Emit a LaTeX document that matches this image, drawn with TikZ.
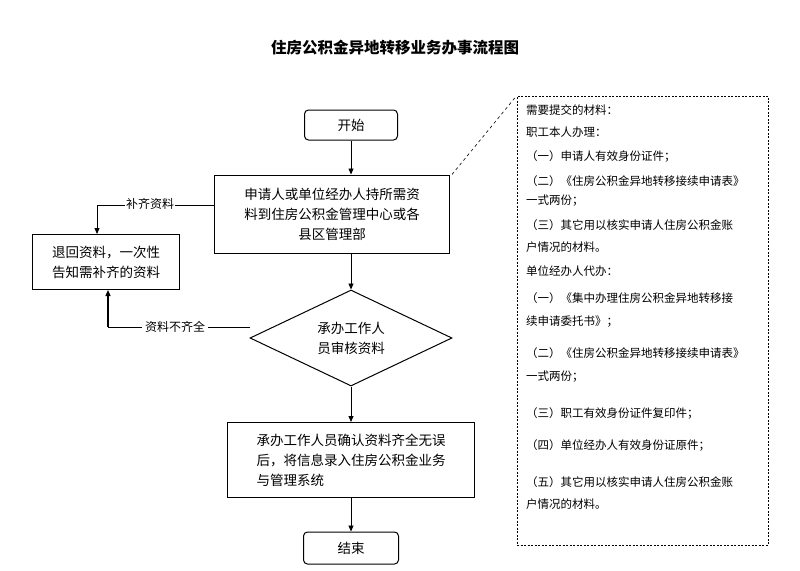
\documentclass[tikz,border=0pt]{standalone}
\usepackage{fontspec}
\setmainfont{Noto Sans CJK SC}
\usetikzlibrary{shapes.geometric,arrows.meta}
\begin{document}
\begin{tikzpicture}[x=1pt,y=-1pt,
  box/.style={draw,line width=1pt,align=center,font=\fontsize{13.5}{20}\selectfont,inner sep=0pt},
  arr/.style={-{Triangle[length=6pt,width=5pt]},line width=0.8pt},
  side/.style={anchor=west,font=\fontsize{11.5}{13}\selectfont,inner sep=0pt}]
\useasboundingbox (0,0) rectangle (800,570);
\node[font=\bfseries\fontsize{15.5}{18}\selectfont] (title) at (395,48) {住房公积金异地转移业务办事流程图};
\node[box,rounded corners=4pt,minimum width=93pt,minimum height=30pt] (start) at (351,125) {开始};
\node[box,minimum width=235pt,minimum height=78pt] (b1) at (332,214) {申请人或单位经办人持所需资\\料到住房公积金管理中心或各\\县区管理部};
\node[box,minimum width=147pt,minimum height=55pt] (back) at (106,262) {退回资料，一次性\\告知需补齐的资料};
\node[box,diamond,aspect=2.1,minimum width=202pt,minimum height=96pt] (dia) at (351,338) {承办工作人\\员审核资料};
\node[box,minimum width=247pt,minimum height=75pt,align=left] (b3) at (351,460) {承办工作人员确认资料齐全无误\\后，将信息录入住房公积金业务\\与管理系统};
\node[box,rounded corners=4pt,minimum width=95pt,minimum height=32pt] (end) at (351,548) {结束};
\node[draw,dash pattern=on 2pt off 1.5pt,line width=0.7pt,minimum width=251pt,minimum height=449pt] (mat) at (642.5,320.5) {};
\draw[arr] (start) -- (start |- b1.north);
\draw[arr] (start |- b1.south) -- (dia.north);
\draw[arr] (dia.south) -- (b3);
\draw[arr] (b3) -- (end);
\draw[dashed,line width=0.6pt] (b1.north east) ++(2,0) -- (mat.north west);
\coordinate (c1) at (97,205);
\draw[arr] (b1.west |- c1) -- (c1) -- (back.north -| c1);
\node[fill=white,inner sep=1pt,font=\fontsize{12}{14}\selectfont] (l1) at (150,204) {补齐资料};
\coordinate (c2) at (250,327);
\coordinate (c3) at (108,327);
\draw[line width=0.8pt] (c2) -- (c3);
\draw[arr,line width=1.3pt] (c3) -- (back.south -| c3);
\node[fill=white,inner sep=3pt,font=\fontsize{12}{14}\selectfont] (l2) at (175,327) {资料不齐全};
\node[side] (t1) at (526,110) {需要提交的材料：};
\node[side] (t2) at (526,132) {职工本人办理：};
\node[side] (t3) at (526,157) {（一）申请人有效身份证件；};
\node[side] (t4) at (526,181) {（二）《住房公积金异地转移接续申请表》};
\node[side] (t5) at (526,201) {一式两份；};
\node[side] (t6) at (526,225) {（三）其它用以核实申请人住房公积金账};
\node[side] (t7) at (526,247) {户情况的材料。};
\node[side] (t8) at (526,271) {单位经办人代办：};
\node[side] (t9) at (526,298) {（一）《集中办理住房公积金异地转移接};
\node[side] (t10) at (526,322) {续申请委托书》；};
\node[side] (t11) at (526,353) {（二）《住房公积金异地转移接续申请表》};
\node[side] (t12) at (526,377) {一式两份；};
\node[side] (t13) at (526,413) {（三）职工有效身份证件复印件；};
\node[side] (t14) at (526,445) {（四）单位经办人有效身份证原件；};
\node[side] (t15) at (526,482) {（五）其它用以核实申请人住房公积金账};
\node[side] (t16) at (526,504) {户情况的材料。};
\end{tikzpicture}
\end{document}
